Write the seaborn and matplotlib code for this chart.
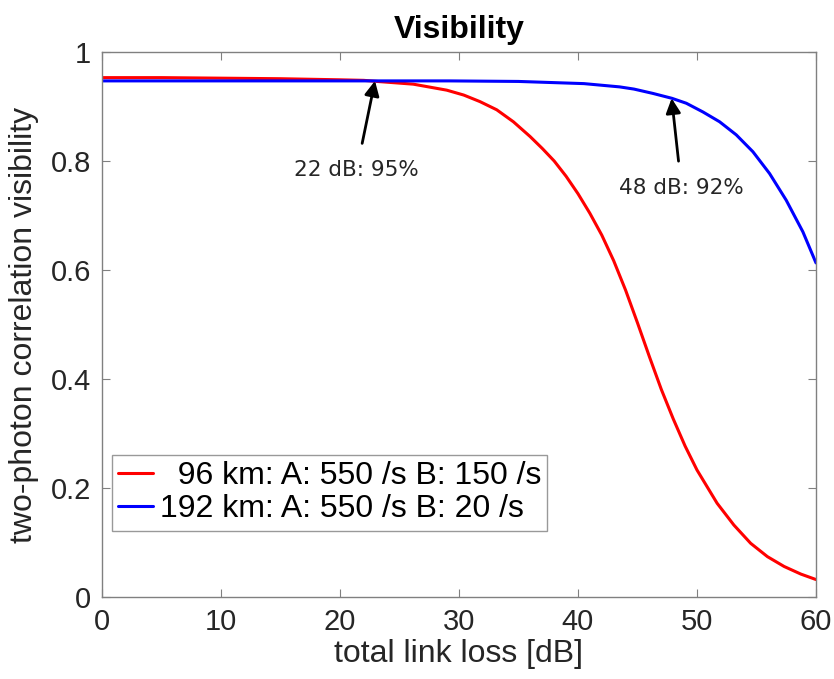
import numpy as np
import pandas as pd
import matplotlib
matplotlib.use("Agg")
import matplotlib.pyplot as plt
import seaborn as sns
from matplotlib.ticker import FuncFormatter

# ---- data ----
red_loss = [0, 5, 10, 15, 20, 22, 23.36, 26.16, 28.97, 30.4, 31.76, 33.17, 34.57, 35.97,
            37, 38, 39, 40, 41, 42, 43, 44, 45, 46, 47, 48, 49, 50,
            51.69, 53.1, 54.51, 55.92, 57.32, 58.73, 60]
red_vis = [0.953, 0.953, 0.952, 0.951, 0.949, 0.948, 0.9456, 0.941, 0.930, 0.921, 0.909,
           0.894, 0.872, 0.845, 0.823, 0.800, 0.772, 0.740, 0.704, 0.664, 0.617, 0.563,
           0.503, 0.441, 0.381, 0.327, 0.277, 0.233, 0.172, 0.132, 0.0985, 0.074, 0.056,
           0.042, 0.032]

blue_loss = [0, 10, 20, 23, 29.2, 35, 40.5, 43.5, 44.7, 46.3, 47.9, 49.1, 50.5, 51.9,
             53.3, 54.7, 56.1, 57.5, 58.9, 60]
blue_vis = [0.947, 0.947, 0.947, 0.947, 0.947, 0.946, 0.942, 0.936, 0.932, 0.924, 0.915,
            0.906, 0.890, 0.872, 0.848, 0.817, 0.777, 0.728, 0.670, 0.613]

series_labels = ["  96 km: A: 550 /s B: 150 /s", "192 km: A: 550 /s B: 20 /s"]
series_colors = ["#ff0000", "#0000ff"]

ann_text = ["22 dB: 95%", "48 dB: 92%"]
ann_tip = [(22.94, 0.947), (47.87, 0.915)]
ann_text_pos = [(21.4, 0.783), (48.7, 0.750)]

xticks = [0, 10, 20, 30, 40, 50, 60]
yticks = [0, 0.2, 0.4, 0.6, 0.8, 1]

df = pd.concat([
    pd.DataFrame({"loss": red_loss, "vis": red_vis, "series": series_labels[0]}),
    pd.DataFrame({"loss": blue_loss, "vis": blue_vis, "series": series_labels[1]}),
], ignore_index=True)

sns.set_theme(style="white")
plt.rcParams["font.family"] = ["Liberation Sans", "DejaVu Sans"]

fig = plt.figure(figsize=(8.34, 6.79), dpi=100)
ax = fig.add_axes([0.1223, 0.1208, 0.8561, 0.8026])

sns.lineplot(data=df, x="loss", y="vis", hue="series", hue_order=series_labels,
             palette=series_colors, linewidth=2.2, ax=ax, sort=False, estimator=None)

ax.set_xlim(0, 60)
ax.set_ylim(0, 1)
ax.set_xticks(xticks)
ax.set_yticks(yticks)
ax.yaxis.set_major_formatter(FuncFormatter(lambda v, p: f"{v:g}"))

tick_col = "#262626"
for s in ax.spines.values():
    s.set_color("#808080")
    s.set_linewidth(1.0)
ax.tick_params(axis="both", which="both", direction="in", length=6, width=0.8,
               color="#808080", labelsize=21, labelcolor=tick_col,
               top=True, right=True, bottom=True, left=True, pad=8)

ax.set_xlabel("total link loss [dB]", fontsize=23, color=tick_col, labelpad=2)
ax.set_ylabel("two-photon correlation visibility", fontsize=23, color=tick_col, labelpad=8)
ax.set_title("Visibility", fontsize=23, fontweight="bold", color="black", pad=10)

for t, tip, tp in zip(ann_text, ann_tip, ann_text_pos):
    ax.annotate(t, xy=tip, xytext=tp, textcoords="data",
                ha="center", va="center", fontsize=15.5, family="DejaVu Sans",
                arrowprops=dict(arrowstyle="-|>", color="black", lw=2.0,
                                mutation_scale=22, shrinkA=10, shrinkB=0))

leg = ax.legend(loc="lower left", bbox_to_anchor=(0.0136, 0.1217), borderaxespad=0,
                fontsize=23, frameon=True, fancybox=False, handlelength=1.1,
                handletextpad=0.2, borderpad=0.2, labelspacing=0.1, title=None)
leg.get_frame().set_edgecolor("#808080")
leg.get_frame().set_linewidth(1.0)
for t in leg.get_texts():
    t.set_color("black")

fig.savefig("out.png", dpi=100)
